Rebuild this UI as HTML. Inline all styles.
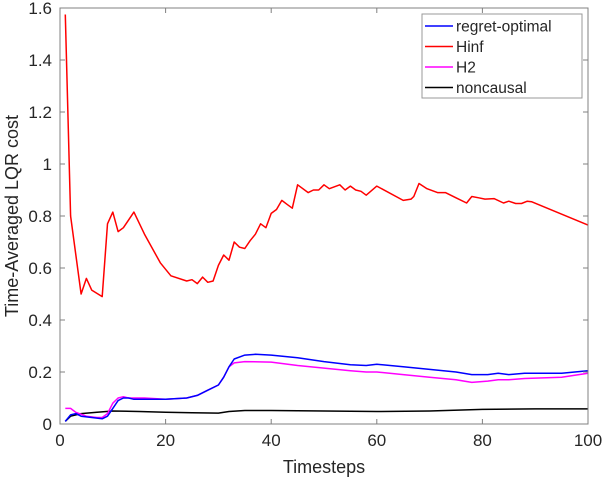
<!DOCTYPE html>
<html><head><meta charset="utf-8"><style>
body{margin:0;background:#fff}
svg text{font-family:"Liberation Sans",sans-serif;fill:#262626}
</style></head><body>
<svg id="chart" width="606" height="479" xmlns="http://www.w3.org/2000/svg">
<rect x="0" y="0" width="606" height="479" fill="#fff"/>
<g id="grid"></g>
<g id="series"></g>
<g id="axes"></g>
<g id="legend"></g>
</svg>
<script>
const xTicks=[0,20,40,60,80,100];
const yTicks=[0,0.2,0.4,0.6,0.8,1,1.2,1.4,1.6];
const yTickLabels=["0","0.2","0.4","0.6","0.8","1","1.2","1.4","1.6"];
const hinfT=[1,2,4,5,6,8,9,10,11,12,14,16,19,21,24,25,26,27,28,29,30,31,32,33,34,35,36,37,38,39,40,41,42,43,44,45,47,48,49,50,51,53,54,55,56,57,58,60,65,66.5,67,68,69.5,71.5,73,75,77,78,79.3,80.5,82.2,84,85,86.3,87.4,88.5,89.3,100];
const hinfV=[1.575,0.80,0.50,0.56,0.515,0.49,0.77,0.815,0.74,0.755,0.815,0.73,0.62,0.57,0.55,0.555,0.54,0.565,0.545,0.55,0.61,0.65,0.63,0.70,0.68,0.675,0.705,0.73,0.77,0.755,0.81,0.825,0.86,0.845,0.83,0.92,0.89,0.90,0.90,0.92,0.905,0.92,0.90,0.915,0.90,0.895,0.88,0.915,0.86,0.865,0.875,0.925,0.905,0.89,0.89,0.87,0.85,0.875,0.87,0.865,0.867,0.85,0.857,0.848,0.848,0.857,0.855,0.765];
const regT=[1,2,3,4,6,8,9,10,11,12,13,14,16,20,24,26,28,30,31,32,33,35,37,40,45,50,55,58,60,65,70,75,78,81,83,85,88,95,100];
const regV=[0.01,0.035,0.04,0.03,0.025,0.02,0.03,0.06,0.09,0.10,0.10,0.095,0.095,0.095,0.10,0.11,0.13,0.15,0.18,0.22,0.25,0.265,0.268,0.265,0.255,0.24,0.228,0.225,0.23,0.22,0.21,0.20,0.19,0.19,0.195,0.19,0.195,0.195,0.205];
const h2T=[1,2,3,5,7,8,9,10,11,12,13,16,20,24,26,28,30,31,32,33,35,40,45,50,55,58,60,65,70,75,78,81,83,85,88,95,100];
const h2V=[0.06,0.06,0.045,0.03,0.025,0.025,0.04,0.08,0.10,0.105,0.10,0.10,0.095,0.10,0.11,0.13,0.15,0.18,0.22,0.235,0.24,0.238,0.225,0.215,0.205,0.20,0.20,0.19,0.18,0.17,0.16,0.165,0.17,0.17,0.175,0.18,0.195];
const ncT=[1,2,4,7,10,15,20,25,30,32,35,40,50,60,70,80,90,100];
const ncV=[0.01,0.03,0.04,0.045,0.05,0.048,0.045,0.043,0.042,0.048,0.052,0.052,0.05,0.048,0.05,0.056,0.058,0.058];
const legendLabels=["regret-optimal","Hinf","H2","noncausal"];
const legendColors=["#0000ff","#ff0000","#ff00ff","#000000"];

const X0=60,X1=588,Y0=424,Y1=8;
const xs=t=>X0+(t-0)/100*(X1-X0);
const ys=v=>Y0-(v-0)/1.6*(Y0-Y1);
const NS="http://www.w3.org/2000/svg";
function mk(tag,attrs,parent){const e=document.createElementNS(NS,tag);for(const k in attrs)e.setAttribute(k,attrs[k]);parent.appendChild(e);return e;}
const axes=document.getElementById('axes');
const series=document.getElementById('series');
const legend=document.getElementById('legend');

const box=mk('rect',{x:X0,y:Y1,width:X1-X0,height:Y0-Y1,fill:'none',stroke:'#808080','stroke-width':1},axes);


xTicks.forEach(t=>{
  const x=xs(t);
  mk('line',{x1:x,y1:Y0,x2:x,y2:Y0-5,stroke:'#808080'},axes);
  mk('line',{x1:x,y1:Y1,x2:x,y2:Y1+5,stroke:'#808080'},axes);
  const tx=mk('text',{x:x,y:Y0+22,'text-anchor':'middle','font-size':17},axes);
  tx.textContent=String(t);
  
  
});
yTicks.forEach((v,i)=>{
  const y=ys(v);
  mk('line',{x1:X0,y1:y,x2:X0+5,y2:y,stroke:'#808080'},axes);
  mk('line',{x1:X1,y1:y,x2:X1-5,y2:y,stroke:'#808080'},axes);
  const tx=mk('text',{x:X0-8,y:y+6,'text-anchor':'end','font-size':17},axes);
  tx.textContent=yTickLabels[i];
  
  
});
const xl=mk('text',{x:(X0+X1)/2,y:473,'text-anchor':'middle','font-size':18},axes);
xl.textContent='Timesteps';


const yl=mk('text',{x:0,y:0,'text-anchor':'middle','font-size':18,transform:'translate(18,216) rotate(-90)'},axes);
yl.textContent='Time-Averaged LQR cost';



function line(T,V,color,name){
  const d=T.map((t,i)=>(i?'L':'M')+xs(t).toFixed(1)+' '+ys(V[i]).toFixed(1)).join(' ');
  const p=mk('path',{d:d,fill:'none',stroke:color,'stroke-width':1.5,'stroke-linejoin':'round'},series);
  
  
}
line(ncT,ncV,'#000000','noncausal-line');
line(h2T,h2V,'#ff00ff','h2-line');
line(regT,regV,'#0000ff','regret-optimal-line');
line(hinfT,hinfV,'#ff0000','hinf-line');

const lb=mk('rect',{x:422,y:14,width:160,height:84,fill:'#fff',stroke:'#999','stroke-width':1},legend);


legendLabels.forEach((lab,i)=>{
  const y=26+i*20.5;
  const g=mk('g',{},legend);
  
  
  mk('line',{x1:425,y1:y,x2:453,y2:y,stroke:legendColors[i],'stroke-width':1.5},g);
  const t=mk('text',{x:456,y:y+5.5,'font-size':15.5},g);
  t.textContent=lab;
});
</script>
</body></html>
